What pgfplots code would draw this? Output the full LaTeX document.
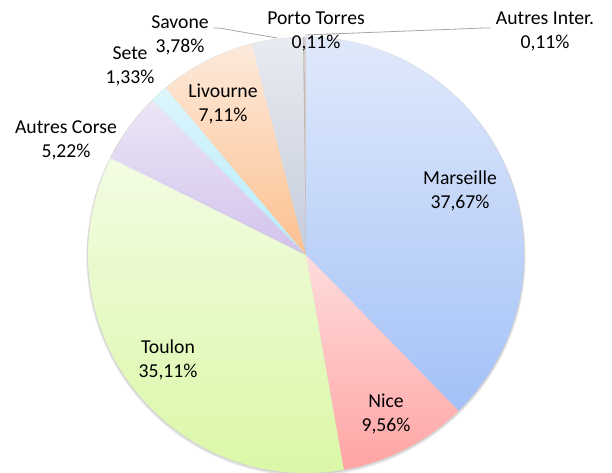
\documentclass[border=0pt]{standalone}
\usepackage{pgfplots}
\pgfplotsset{compat=1.18}
\usepackage{pgfplotstable}
\usepackage{fontspec}
\setmainfont{Carlito}

\definecolor{marT}{HTML}{E0E9FB}\definecolor{marB}{HTML}{A3C1F7}
\definecolor{nicT}{HTML}{FFDCDC}\definecolor{nicB}{HTML}{FFA4A4}
\definecolor{touT}{HTML}{F2FCE3}\definecolor{touB}{HTML}{D9F7A3}
\definecolor{corT}{HTML}{ECE6F6}\definecolor{corB}{HTML}{D2C2EB}
\definecolor{setT}{HTML}{DDF5FC}\definecolor{setB}{HTML}{B5ECFA}
\definecolor{livT}{HTML}{FDEADB}\definecolor{livB}{HTML}{FCC08F}
\definecolor{savT}{HTML}{E8EBF1}\definecolor{savB}{HTML}{C5CCDB}
\definecolor{porT}{HTML}{C8C0B8}\definecolor{porB}{HTML}{B8B0A8}
\definecolor{intT}{HTML}{D8D0CC}\definecolor{intB}{HTML}{C8C0BC}
\definecolor{leader}{HTML}{A6A6A6}

% share of each port, clockwise from the top
\pgfplotstableread[col sep=comma]{
name,pct,topc,botc
Marseille,37.67,marT,marB
Nice,9.56,nicT,nicB
Toulon,35.11,touT,touB
Autres Corse,5.22,corT,corB
Sete,1.33,setT,setB
Livourne,7.11,livT,livB
Savone,3.78,savT,savB
Porto Torres,0.11,porT,porB
Autres Inter.,0.11,intT,intB
}\piedata

% start/end angle of every slice
\def\cum{0}
\pgfplotsforeachungrouped \i in {0,...,8}{%
  \pgfplotstablegetelem{\i}{pct}\of\piedata
  \pgfmathsetmacro\aS{90-3.6*\cum}%
  \pgfmathsetmacro\cum{\cum+\pgfplotsretval}%
  \pgfmathsetmacro\aE{90-3.6*\cum}%
  \expandafter\xdef\csname pieS\i\endcsname{\aS}%
  \expandafter\xdef\csname pieE\i\endcsname{\aE}%
  \pgfplotstablegetelem{\i}{topc}\of\piedata
  \expandafter\xdef\csname pieT\i\endcsname{\pgfplotsretval}%
  \pgfplotstablegetelem{\i}{botc}\of\piedata
  \expandafter\xdef\csname pieB\i\endcsname{\pgfplotsretval}%
}

\begin{document}
\begin{tikzpicture}[
  lbl/.style={align=center, inner sep=0pt, text=black,
    font=\fontsize{19.7bp}{24bp}\selectfont}]
\begin{axis}[
  width=612bp, height=473bp, scale only axis,
  xmin=0, xmax=612, ymin=0, ymax=473, y dir=reverse,
  hide axis, clip=false]
  % soft outer shadow
  \fill[black, opacity=0.10] (axis cs:306,256.5) circle[radius=219.5bp];
  \fill[black, opacity=0.08] (axis cs:306,255.5) circle[radius=218.8bp];
  \pgfplotsinvokeforeach{0,...,8}{%
    \edef\tmp{\noexpand\path[top color=\csname pieT#1\endcsname,
      bottom color=\csname pieB#1\endcsname]
      (axis cs:306,255) -- ([shift={(axis cs:306,255)}]\csname pieS#1\endcsname:218bp)
      arc[start angle=\csname pieS#1\endcsname, end angle=\csname pieE#1\endcsname, radius=218bp]
      -- cycle;}%
    \tmp
  }
  \draw[leader, line width=0.8bp] (axis cs:213,28) -- (axis cs:219,28) -- (axis cs:277,38);
  \draw[leader, line width=0.8bp] (axis cs:491,28) -- (axis cs:484,28) -- (axis cs:305,35);
  \node[lbl] at (axis cs:460,191) {Marseille\\37,67\%};
  \node[lbl] at (axis cs:386,414) {Nice\\9,56\%};
  \node[lbl] at (axis cs:168,360) {Toulon\\35,11\%};
  \node[lbl] at (axis cs:66,140) {Autres Corse\\5,22\%};
  \node[lbl] at (axis cs:130,66) {Sete\\1,33\%};
  \node[lbl] at (axis cs:180,35) {Savone\\3,78\%};
  \node[lbl] at (axis cs:223,104) {Livourne\\7,11\%};
  \node[lbl] at (axis cs:316,31) {Porto Torres\\0,11\%};
  \node[lbl] at (axis cs:545,31) {Autres Inter.\\0,11\%};
\end{axis}
\pgfresetboundingbox
\useasboundingbox (current axis.south west) rectangle (current axis.north east);
\end{tikzpicture}
\end{document}
